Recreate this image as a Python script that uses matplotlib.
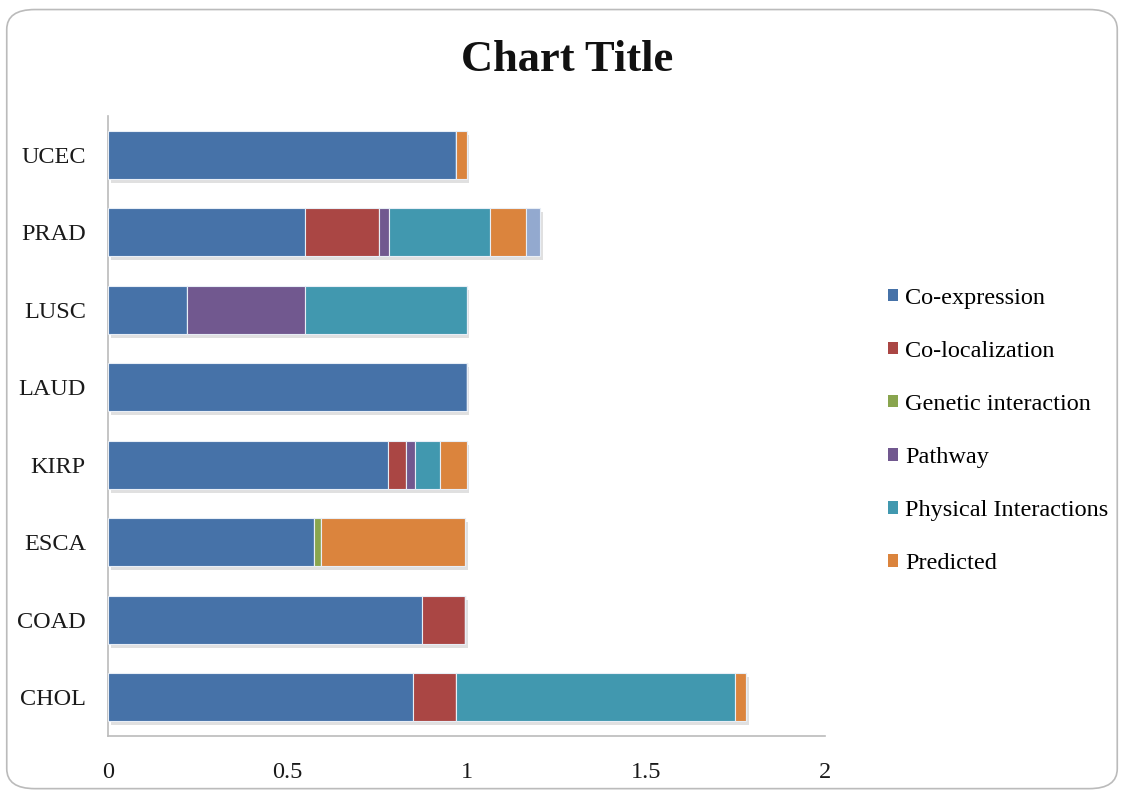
import matplotlib
matplotlib.use("Agg")
import matplotlib.pyplot as plt
import matplotlib.patheffects as pe
from matplotlib.patches import FancyBboxPatch
import numpy as np

plt.rcParams['font.family'] = ['Liberation Serif', 'DejaVu Serif']

cancers = ['CHOL', 'COAD', 'ESCA', 'KIRP', 'LAUD', 'LUSC', 'PRAD', 'UCEC']
co_expression = [0.85, 0.875, 0.575, 0.78, 1.0, 0.22, 0.55, 0.97]
co_localization = [0.12, 0.12, 0.0, 0.05, 0.0, 0.0, 0.205, 0.0]
genetic_interaction = [0.0, 0.0, 0.02, 0.0, 0.0, 0.0, 0.0, 0.0]
pathway = [0.0, 0.0, 0.0, 0.025, 0.0, 0.33, 0.03, 0.0]
physical_interactions = [0.78, 0.0, 0.0, 0.07, 0.0, 0.45, 0.28, 0.0]
predicted = [0.03, 0.0, 0.40, 0.075, 0.0, 0.0, 0.10, 0.03]
shared_domains = [0.0, 0.0, 0.0, 0.0, 0.0, 0.0, 0.04, 0.0]

series = [
    ('Co-expression', co_expression, '#4672A8'),
    ('Co-localization', co_localization, '#AA4644'),
    ('Genetic interaction', genetic_interaction, '#89A54E'),
    ('Pathway', pathway, '#71588F'),
    ('Physical Interactions', physical_interactions, '#4198AF'),
    ('Predicted', predicted, '#DB843D'),
    ('_nolegend_', shared_domains, '#93A9CF'),
]

fig = plt.figure(figsize=(11.24, 7.95), dpi=100)

# rounded chart-area border
border = FancyBboxPatch((0.006, 0.008), 0.988, 0.980, boxstyle="round,pad=0,rounding_size=0.025",
                        transform=fig.transFigure, facecolor='none', edgecolor='#BBBBBB',
                        linewidth=1.2)
fig.patches.append(border)

ax = fig.add_axes([0.0961, 0.0742, 0.638, 0.780])
ax.patch.set_visible(False)

y = np.arange(len(cancers))
left = np.zeros(len(cancers))
shadow = [pe.SimplePatchShadow(offset=(2, -3), shadow_rgbFace='#999999', alpha=0.3), pe.Normal()]
for name, vals, color in series:
    vals = np.array(vals)
    bars = ax.barh(y, vals, left=left, height=0.62, color=color, edgecolor='#E8EEF6',
                   linewidth=0.8, label=name, zorder=3)
    for b in bars:
        b.set_path_effects(shadow)
    left += vals

ax.set_xlim(0, 2)
ax.set_ylim(-0.5, len(cancers) - 0.5)
ax.set_xticks([0, 0.5, 1, 1.5, 2])
ax.set_xticklabels(['0', '0.5', '1', '1.5', '2'])
ax.set_yticks(y)
ax.set_yticklabels(cancers)
ax.tick_params(axis='both', length=0, labelsize=17.5, colors='#1A1A1A')
ax.tick_params(axis='x', pad=19)
ax.tick_params(axis='y', pad=16)
for s in ['top', 'right']:
    ax.spines[s].set_visible(False)
ax.spines['left'].set_color('#BBBBBB')
ax.spines['bottom'].set_color('#BBBBBB')
ax.spines['left'].set_linewidth(1.2)
ax.spines['bottom'].set_linewidth(1.2)

fig.text(0.505, 0.924, 'Chart Title', ha='center', va='center', fontsize=32,
         fontweight='bold', color='#111111')

handles, labels = ax.get_legend_handles_labels()
leg = fig.legend(handles, labels, loc='center left', bbox_to_anchor=(0.781, 0.458),
                 frameon=False, fontsize=17.5, handlelength=0.42, handleheight=0.42,
                 handletextpad=0.3, labelspacing=1.32, borderaxespad=0)
for h in leg.legend_handles:
    h.set_path_effects([])
    h.set_edgecolor('none')

fig.savefig('out.png', dpi=100)
